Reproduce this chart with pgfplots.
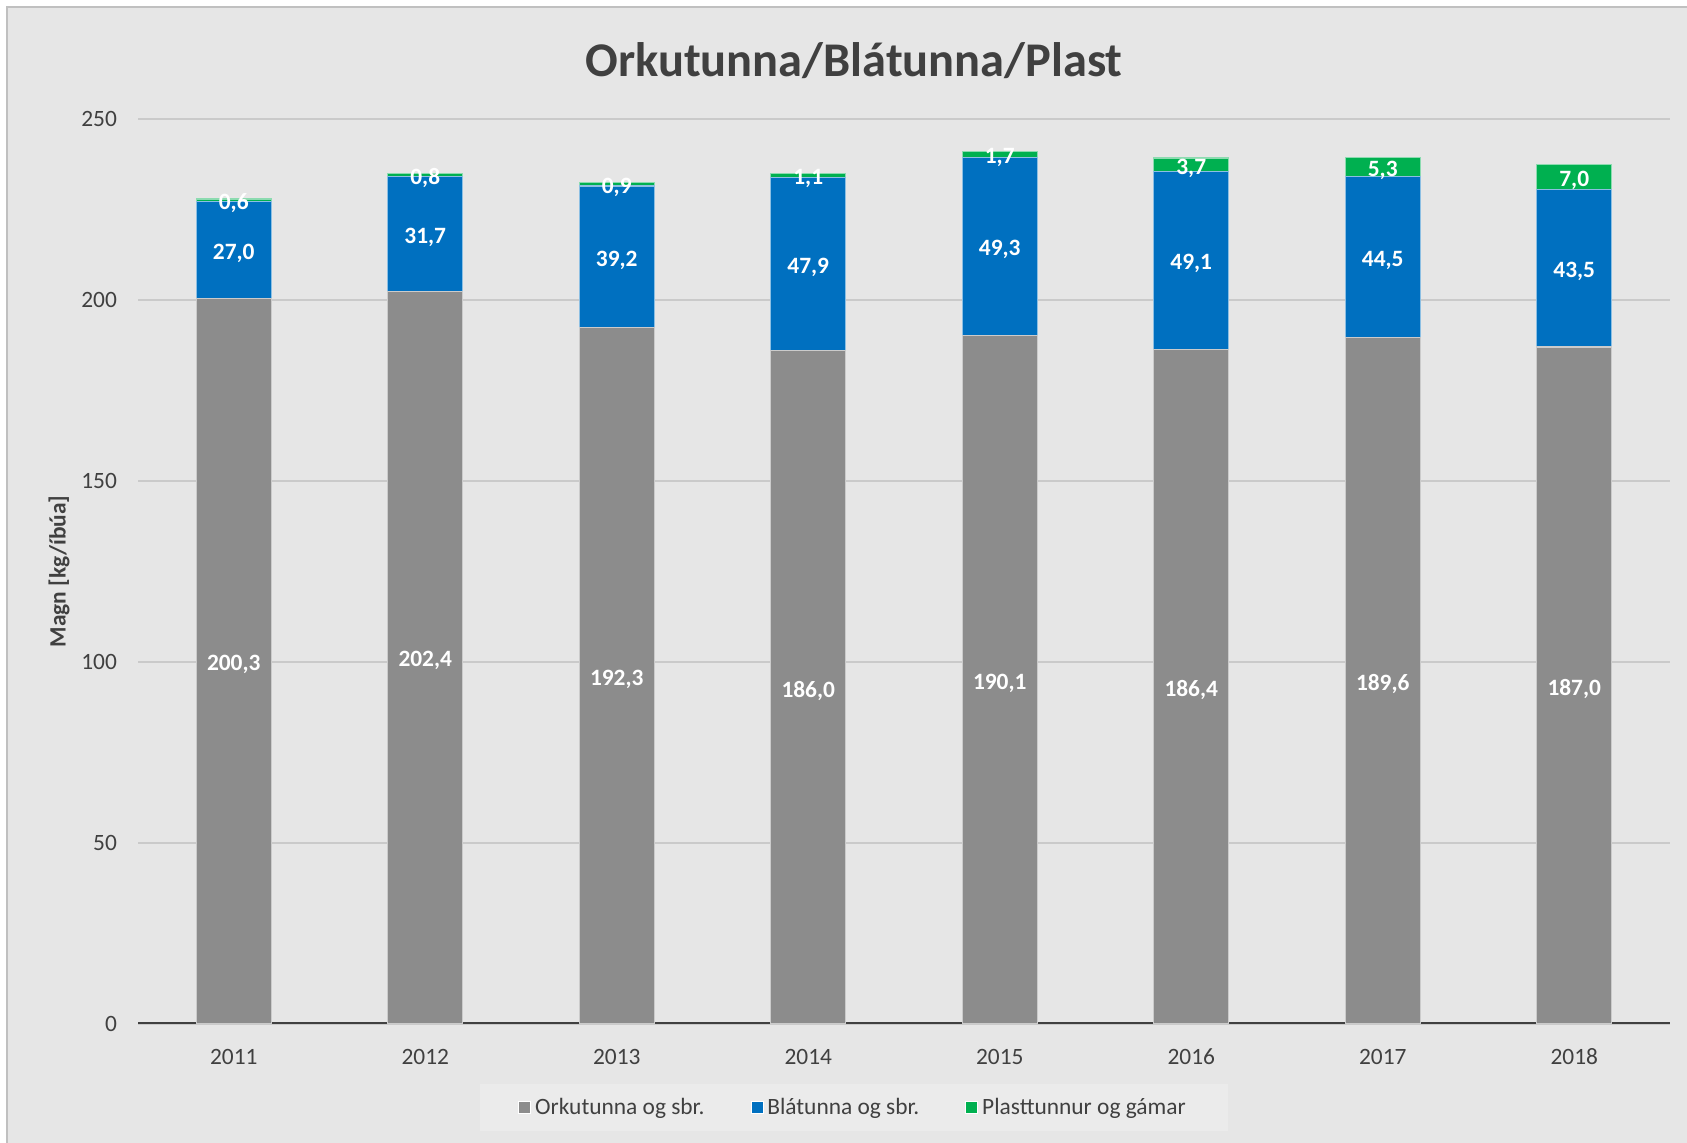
\documentclass[border=0pt]{standalone}
\usepackage{fontspec}
\setmainfont{Carlito}
\usepackage{pgfplots}
\pgfplotsset{compat=1.18}
\definecolor{bgc}{HTML}{E6E6E6}
\definecolor{legbg}{HTML}{EBEBEB}
\definecolor{framec}{HTML}{C0C0C0}
\definecolor{gridc}{HTML}{CACACA}
\definecolor{txtc}{HTML}{404040}
\definecolor{c1}{HTML}{8C8C8C}
\definecolor{c2}{HTML}{0070C0}
\definecolor{c3}{HTML}{00B050}
\begin{document}
\begin{tikzpicture}
\useasboundingbox (0,0) rectangle (843.5pt,571.5pt);
\fill[white] (0,0) rectangle (843.5pt,571.5pt);
\draw[framec, line width=1pt, fill=bgc] (3.5pt,568pt) rectangle (870pt,-30pt);
\node[anchor=base, font=\bfseries\fontsize{24.2}{29}\selectfont, text=txtc, inner sep=0pt] at (427pt,533pt) {Orkutunna/Blátunna/Plast};
\begin{axis}[
  at={(69pt,59.5pt)}, anchor=south west,
  scale only axis, width=766pt, height=452.5pt,
  ybar stacked, bar width=37.5pt,
  xmin=-0.5, xmax=7.5, ymin=0, ymax=250,
  xtick={0,1,2,3,4,5,6,7},
  xticklabels={2011,2012,2013,2014,2015,2016,2017,2018},
  ytick={0,50,100,150,200,250},
  /pgf/number format/assume math mode=true,
  axis line style={draw=none},
  major tick length=0pt,
  tick style={draw=none},
  ymajorgrids, grid style={gridc, line width=0.75pt},
  ticklabel style={font=\fontsize{11.7}{14}\selectfont, text=txtc},
  xticklabel style={anchor=base, yshift=-20.2pt},
  yticklabel style={xshift=-7pt},
  every axis y label/.style={at={(axis description cs:-0.0516,0.5)}, rotate=90, anchor=center, font=\bfseries\fontsize{11.7}{14}\selectfont, text=txtc},
  ylabel={Magn [kg/íbúa]},
  nodes near coords={\pgfmathprintnumber[fixed,fixed zerofill,precision=1,use comma]{\pgfplotspointmeta}},
  nodes near coords align={anchor=center},
  every node near coord/.append style={anchor=center, yshift=-1.6pt, font=\bfseries\fontsize{11.7}{14}\selectfont, text=white, inner sep=0pt},
  legend columns=3,
  legend style={at={(0.4674,-0.0923)}, anchor=center, fill=legbg, draw=none, font=\fontsize{11.7}{14}\selectfont, text=txtc, inner xsep=19pt, inner ysep=5pt, /tikz/every even column/.append style={column sep=21pt}},
  legend image code/.code={\draw[#1, draw=white, line width=0.4pt] (0pt,-3pt) rectangle (6pt,3pt);},
]
\addplot[fill=c1, draw=c1!45!white, line width=0.6pt] coordinates {(0,200.3) (1,202.4) (2,192.3) (3,186.0) (4,190.1) (5,186.4) (6,189.6) (7,187.0)};
\addplot[fill=c2, draw=c2!45!white, line width=0.6pt] coordinates {(0,27.0) (1,31.7) (2,39.2) (3,47.9) (4,49.3) (5,49.1) (6,44.5) (7,43.5)};
\addplot[fill=c3, draw=c3!45!white, line width=0.6pt] coordinates {(0,0.6) (1,0.8) (2,0.9) (3,1.1) (4,1.7) (5,3.7) (6,5.3) (7,7.0)};
\legend{Orkutunna og sbr., Blátunna og sbr., Plasttunnur og gámar}
\draw[txtc, line width=2pt] (rel axis cs:0,0) -- (rel axis cs:1,0);
\end{axis}
\end{tikzpicture}
\end{document}
